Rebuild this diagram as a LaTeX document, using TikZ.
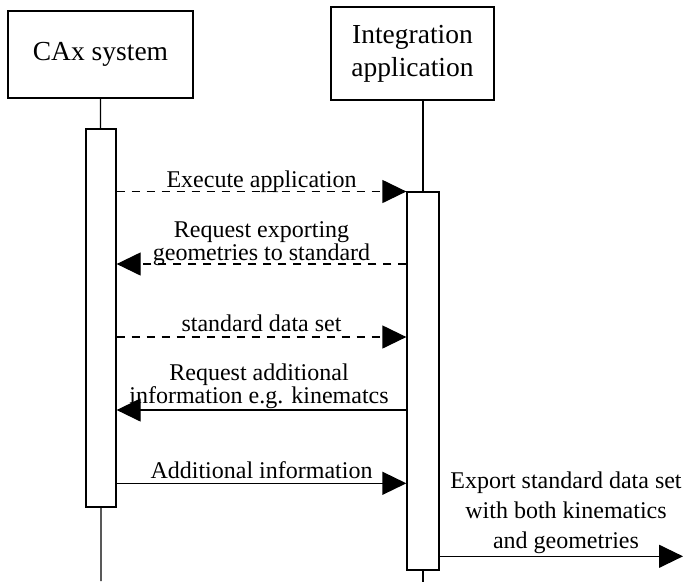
\documentclass[tikz,border=0pt]{standalone}
\usepackage{fontspec}
\setmainfont{Liberation Serif}
\usetikzlibrary{arrows.meta}

\tikzset{
  lifehead/.style={draw, line width=1.3pt, fill=white, inner sep=0pt,
    align=center, font=\fontsize{27.5}{33}\selectfont},
  actbar/.style={draw, line width=1.3pt, fill=white, inner sep=0pt},
  lifeline/.style={line width=1.3pt},
  msg/.style={line width=1.3pt, -{Triangle[length=24pt,width=23pt]}},
  reply/.style={msg, dash pattern=on 8pt off 7pt},
  msglabel/.style={anchor=base, inner sep=0pt, align=center,
    font=\fontsize{24}{22.7}\selectfont},
}

\begin{document}
\begin{tikzpicture}[x=1pt, y=-1pt]
  \useasboundingbox (0,0) rectangle (684,582);

  % participants
  \node[lifehead, minimum width=185pt, minimum height=87pt] (cax) at (100.5,54.5) {CAx system};
  \node[lifehead, minimum width=163pt, minimum height=93pt] (int) at (412.5,53.5) {Integration\\application};

  % lifeline ends
  \coordinate (caxend) at (101,581);
  \coordinate (intend) at (423,582);

  % lifelines
  \draw[lifeline] (cax.south) -- (caxend);
  \draw[lifeline] (int.south -| intend) -- (intend);

  % activation bars
  \node[actbar, minimum width=30pt, minimum height=378pt] (caxbar) at (101,318) {};
  \node[actbar, minimum width=32pt, minimum height=378pt] (intbar) at (423,381) {};

  % messages (label anchors sit on the last baseline)
  \draw[reply] (caxbar.east |- 0,191.5) -- (intbar.west |- 0,191.5);
  \node[msglabel] (m1) at (261.5,187.3) {Execute application};

  \draw[reply] (intbar.west |- 0,264) -- (caxbar.east |- 0,264);
  \node[msglabel] (m2) at (261.5,260) {Request exporting\\geometries to standard};

  \draw[reply] (caxbar.east |- 0,337) -- (intbar.west |- 0,337);
  \node[msglabel] (m3) at (261.5,331.7) {standard data set};

  \draw[msg] (intbar.west |- 0,410) -- (caxbar.east |- 0,410);
  \node[msglabel] (m4) at (259,403.3) {Request additional\\information e.g. kinematcs};

  \draw[msg] (caxbar.east |- 0,483.3) -- (intbar.west |- 0,483.3);
  \node[msglabel] (m5) at (261.5,478.3) {Additional information};

  % outgoing export
  \coordinate (exportend) at (683,556.3);
  \draw[msg] (intbar.east |- exportend) -- (exportend);
  \node[msglabel, font=\fontsize{24}{30}\selectfont] (m6) at (566,548.3)
    {Export standard data set\\with both kinematics\\and geometries};
\end{tikzpicture}
\end{document}
